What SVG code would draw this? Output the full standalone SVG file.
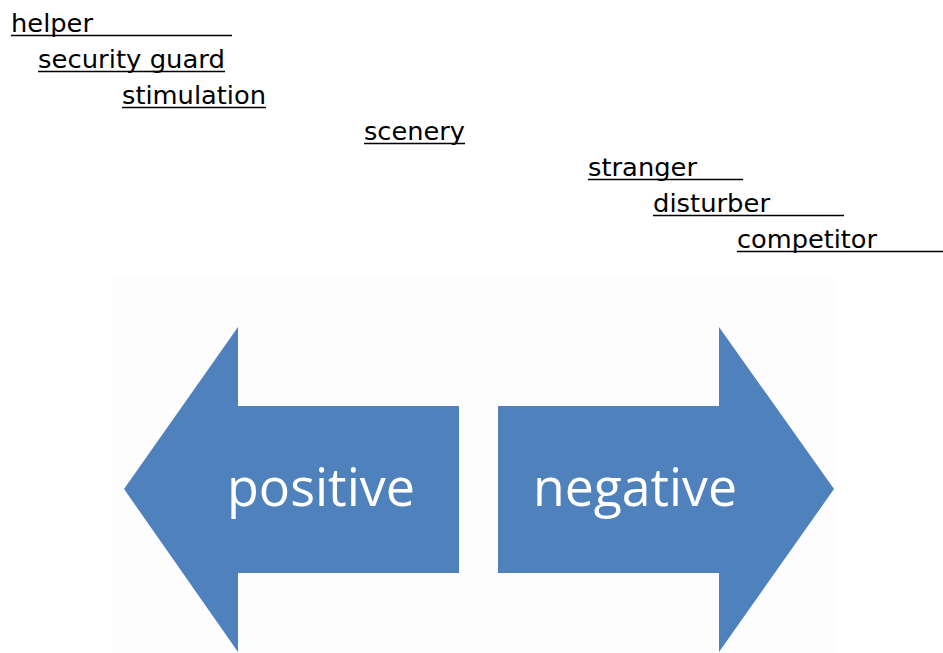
<svg xmlns="http://www.w3.org/2000/svg" width="943" height="653" viewBox="0 0 943 653">
<style>
.lbl{font-family:"DejaVu Sans",Verdana,sans-serif;font-size:25.5px;fill:#000}
.ul{stroke:#000;stroke-width:1.5}
.arrow{fill:#4f81bd}
.atxt{font-family:"Open Sans","Noto Sans",sans-serif;font-size:53px;fill:#fff}
</style>
<rect width="943" height="653" fill="#fff"/>
<rect x="112" y="278" width="724" height="375" fill="#fdfdfd"/>
<g id="labels">
<g id="helper"><text class="lbl" x="11" y="32" textLength="82" lengthAdjust="spacingAndGlyphs">helper</text><line class="ul" x1="11" y1="35.5" x2="232" y2="35.5"/></g>
<g id="security-guard"><text class="lbl" x="38" y="68" textLength="187" lengthAdjust="spacingAndGlyphs">security guard</text><line class="ul" x1="38" y1="71.5" x2="225" y2="71.5"/></g>
<g id="stimulation"><text class="lbl" x="122" y="104" textLength="144" lengthAdjust="spacingAndGlyphs">stimulation</text><line class="ul" x1="122" y1="107.5" x2="266" y2="107.5"/></g>
<g id="scenery"><text class="lbl" x="364" y="140" textLength="101" lengthAdjust="spacingAndGlyphs">scenery</text><line class="ul" x1="364" y1="143.5" x2="465" y2="143.5"/></g>
<g id="stranger"><text class="lbl" x="588" y="176" textLength="109" lengthAdjust="spacingAndGlyphs">stranger</text><line class="ul" x1="588" y1="179.5" x2="743" y2="179.5"/></g>
<g id="disturber"><text class="lbl" x="653" y="212" textLength="117" lengthAdjust="spacingAndGlyphs">disturber</text><line class="ul" x1="653" y1="215.5" x2="844" y2="215.5"/></g>
<g id="competitor"><text class="lbl" x="737" y="248" textLength="140" lengthAdjust="spacingAndGlyphs">competitor</text><line class="ul" x1="737" y1="251.5" x2="943" y2="251.5"/></g>
</g>
<g id="positive">
<polygon class="arrow" points="124,489 238,327 238,406 459,406 459,573 238,573 238,652"/>
<text class="atxt" x="227" y="506" textLength="188" lengthAdjust="spacingAndGlyphs">positive</text>
</g>
<g id="negative">
<polygon class="arrow" points="834,489 719,327 719,406 498,406 498,573 719,573 719,652"/>
<text class="atxt" x="533" y="506" textLength="204" lengthAdjust="spacingAndGlyphs">negative</text>
</g>
<g id="connectors"/>
</svg>
